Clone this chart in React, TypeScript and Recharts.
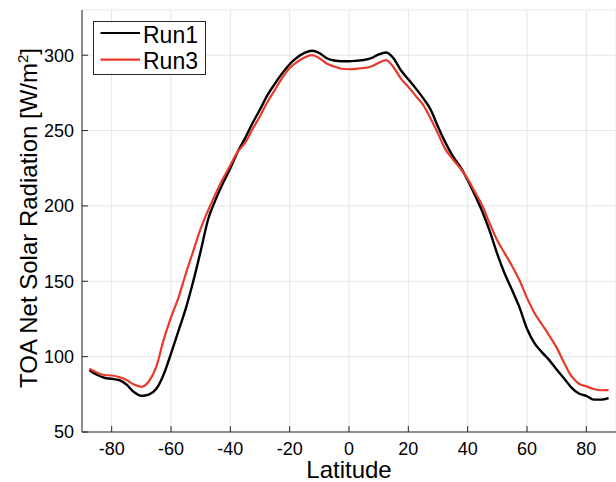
import React from "react";
import {
  LineChart,
  Line,
  XAxis,
  YAxis,
  CartesianGrid,
  Legend,
} from "recharts";

const LATITUDE = [
  -87.5, -85, -82.5, -80, -77.5, -75, -72.5, -70, -67.5, -65, -62.5, -60,
  -57.5, -55, -52.5, -50, -47.5, -45, -42.5, -40, -37.5, -35, -32.5, -30,
  -27.5, -25, -22.5, -20, -17.5, -15, -12.5, -10, -7.5, -5, -2.5, 0, 2.5, 5,
  7.5, 10, 12.5, 15, 17.5, 20, 22.5, 25, 27.5, 30, 32.5, 35, 37.5, 40, 42.5,
  45, 47.5, 50, 52.5, 55, 57.5, 60, 62.5, 65, 67.5, 70, 72.5, 75, 77.5, 80,
  82.5, 85, 87.5,
];

const RUN1 = [
  91, 88, 86, 85.3, 84.5, 81.5, 76.5, 74, 74.8, 78.5, 88, 102, 117, 132, 150,
  170, 191, 204, 215, 225, 236, 245, 255, 264, 273.5, 281, 288, 294, 298.5,
  301.5, 303, 301.5, 298, 296.5, 296, 296, 296.3, 296.8, 298, 300.5, 301.8,
  298, 290, 284, 278, 271.5, 264, 252.5, 242, 233, 226, 217, 207, 196, 183,
  168, 155, 144, 132.5, 118.5, 109, 103, 97.7, 91.5, 85.5, 79.5, 75.5, 74,
  71.5, 71.5, 72.5,
];

const RUN3 = [
  92, 89.5, 87.8, 87.5, 86.5, 84.5, 81.5, 80, 83.5, 93, 111, 126, 139, 155,
  170, 185, 197, 208, 218, 227, 236, 242, 251, 259.5, 269, 277, 285, 291.5,
  295.5, 298.5, 300, 298, 294.5, 292.5, 291, 290.7, 291, 291.5, 292.5, 295,
  296.7, 292, 284.5, 279, 273, 267, 258, 248, 237.5, 231, 225, 218, 209, 200,
  188, 177, 168.5, 160, 150.5, 139, 129, 121.5, 114, 106, 96, 87, 82, 80.3,
  78.5, 77.7, 77.8,
];

const X_TICKS = [-80, -60, -40, -20, 0, 20, 40, 60, 80];
const Y_TICKS = [50, 100, 150, 200, 250, 300];

const FONT = "'Liberation Sans', Arial, Helvetica, sans-serif";
const RED = "#e8392b";

const data = LATITUDE.map((lat, i) => ({
  lat,
  run1: RUN1[i],
  run3: RUN3[i],
}));

function YLabel({ viewBox }: any) {
  const cx = viewBox.x + 37;
  const cy = viewBox.y + viewBox.height / 2 - 3;
  return (
    <text
      x={cx}
      y={cy}
      transform={`rotate(-90, ${cx}, ${cy})`}
      textAnchor="middle"
      fontFamily={FONT}
      fontSize={24}
      fill="#000"
    >
      TOA Net Solar Radiation [W/m
      <tspan dy={-9} fontSize={15}>
        2
      </tspan>
      <tspan dy={9}>]</tspan>
    </text>
  );
}

function XLabel({ viewBox }: any) {
  return (
    <text
      x={viewBox.x + viewBox.width / 2}
      y={viewBox.y + 45.5}
      textAnchor="middle"
      fontFamily={FONT}
      fontSize={24}
      fill="#000"
    >
      Latitude
    </text>
  );
}

function LegendBox({ payload }: any) {
  const items = payload || [];
  return (
    <svg width={113} height={54} style={{ display: "block" }}>
      <rect x={0.5} y={0.5} width={112} height={53} fill="#fff" stroke="#262626" />
      {items.map((it: any, i: number) => (
        <g key={it.value}>
          <line
            x1={7.5}
            x2={47}
            y1={12 + i * 26.7}
            y2={12 + i * 26.7}
            stroke={it.color}
            strokeWidth={2.2}
          />
          <text
            x={50}
            y={21.5 + i * 26.7}
            fontFamily={FONT}
            fontSize={23}
            fill="#000"
          >
            {it.value}
          </text>
        </g>
      ))}
    </svg>
  );
}

export default function App() {
  return (
    <div style={{ position: "absolute", left: 0, top: 0, background: "#fff" }}>
      <LineChart
        width={616}
        height={482}
        data={data}
        margin={{ top: 10, right: 0, bottom: 0, left: 0 }}
      >
        <CartesianGrid stroke="#e6e6e6" strokeWidth={1} />
        <XAxis
          dataKey="lat"
          type="number"
          domain={[-90, 90]}
          ticks={X_TICKS}
          height={50}
          tickSize={-6}
          tickMargin={16}
          axisLine={{ stroke: "#262626" }}
          tickLine={{ stroke: "#262626" }}
          tick={{ fill: "#000", fontSize: 18, fontFamily: FONT }}
          label={<XLabel />}
        />
        <YAxis
          type="number"
          domain={[50, 330]}
          ticks={Y_TICKS}
          width={82}
          tickSize={-6}
          tickMargin={14}
          axisLine={{ stroke: "#262626" }}
          tickLine={{ stroke: "#262626" }}
          tick={{ fill: "#000", fontSize: 18, fontFamily: FONT }}
          label={<YLabel />}
        />
        <Legend
          verticalAlign="middle"
          align="center"
          layout="horizontal"
          content={<LegendBox />}
          wrapperStyle={{ left: 93, top: 21, width: 113, height: 54 }}
        />
        <Line
          name="Run1"
          dataKey="run1"
          type="monotone"
          stroke="#000"
          strokeWidth={2.4}
          dot={false}
          isAnimationActive={false}
        />
        <Line
          name="Run3"
          dataKey="run3"
          type="monotone"
          stroke={RED}
          strokeWidth={2.2}
          dot={false}
          isAnimationActive={false}
        />
      </LineChart>
    </div>
  );
}
